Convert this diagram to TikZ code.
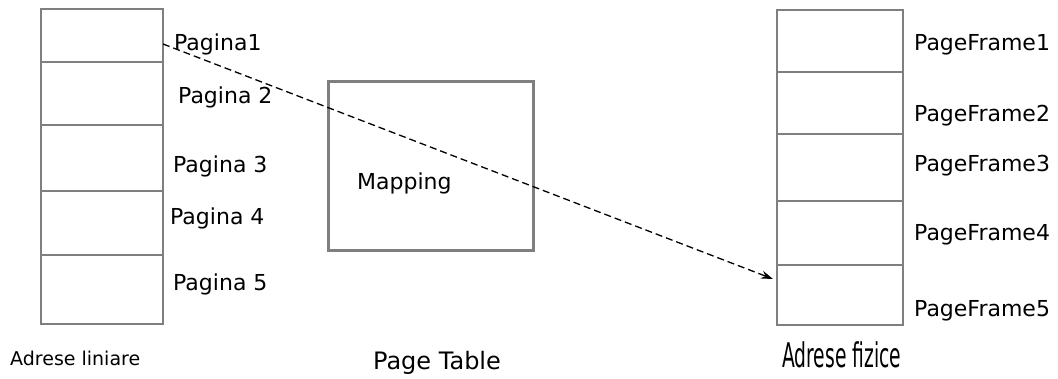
\documentclass[tikz,border=0pt]{standalone}
\usepackage{fontspec}
\setmainfont{DejaVu Sans}
\usepackage{xcolor}
\usetikzlibrary{arrows.meta, positioning, calc}

\definecolor{framegray}{HTML}{7F7F7F}

\begin{document}
\begin{tikzpicture}[
    x=1pt, y=-1pt,
    cell/.style={draw=framegray, line width=1.5pt, minimum width=122pt,
                 inner sep=0pt, outer sep=0pt},
    frame/.style={draw=framegray, line width=2.6pt},
    lbl/.style={font=\fontsize{22}{25}\selectfont, anchor=west, inner sep=0pt},
    flbl/.style={font=\fontsize{22}{25}\selectfont, anchor=west, inner sep=0pt},
    caplbl/.style={font=\fontsize{19}{22}\selectfont, inner sep=0pt},
    arr/.style={-{Stealth[length=12pt, width=8pt]}, line width=1.3pt,
                dash pattern=on 7pt off 4pt}
]
\useasboundingbox (0,0) rectangle (1058,379);

% adrese liniare
\node[cell, minimum height=53pt, anchor=north west] (lp1) at (41,9) {};
\node[cell, minimum height=63pt, below=0pt of lp1] (lp2) {};
\node[cell, minimum height=66pt, below=0pt of lp2] (lp3) {};
\node[cell, minimum height=64pt, below=0pt of lp3] (lp4) {};
\node[cell, minimum height=69pt, below=0pt of lp4] (lp5) {};
\draw[frame] (lp1.north west) rectangle (lp5.south east);
\draw[frame] (lp3.south west) -- (lp3.south east);

\node[lbl] (pag1) at (174,44) {Pagina1};
\node[lbl] (pag2) at (178,97) {Pagina 2};
\node[lbl] (pag3) at (173,166) {Pagina 3};
\node[lbl] (pag4) at (170,218) {Pagina 4};
\node[lbl] (pag5) at (173,284) {Pagina 5};
\node[caplbl, anchor=west] (linlbl) at (10,358) {Adrese liniare};

% page table
\node[draw=framegray, line width=2.6pt, minimum width=205pt, minimum height=169pt,
      anchor=north west, inner sep=0pt] (ptab) at (327,80) {};
\node[flbl] (map) at (357,183) {Mapping};
\node[flbl, font=\fontsize{24}{27}\selectfont, anchor=center] (ptlbl) at (437,363) {Page Table};

% adrese fizice
\node[cell, minimum width=126pt, minimum height=62pt, anchor=north west] (pf1) at (777,10) {};
\node[cell, minimum width=126pt, minimum height=62pt, below=0pt of pf1] (pf2) {};
\node[cell, minimum width=126pt, minimum height=67pt, below=0pt of pf2] (pf3) {};
\node[cell, minimum width=126pt, minimum height=64pt, below=0pt of pf3] (pf4) {};
\node[cell, minimum width=126pt, minimum height=60pt, below=0pt of pf4] (pf5) {};
\draw[frame] (pf1.north west) rectangle (pf5.south east);
\draw[frame] (pf1.south west) -- (pf1.south east);

\node[flbl] (fr1) at (914,45) {PageFrame1};
\node[flbl] (fr2) at (914,116) {PageFrame2};
\node[flbl] (fr3) at (914,166) {PageFrame3};
\node[flbl] (fr4) at (914,235) {PageFrame4};
\node[flbl] (fr5) at (914,311) {PageFrame5};
\node[caplbl, anchor=west] (fizlbl) at (782,355)
  {\scalebox{0.55}[1]{\fontsize{34}{38}\selectfont Adrese fizice}};

% mapare pagina 1 -> frame 5
\coordinate (src) at (lp1.east |- 0,44);
\coordinate (dst) at ($(pf5.west |- 0,279) + (-4,0)$);
\draw[arr] (src) -- (dst);
\end{tikzpicture}
\end{document}
